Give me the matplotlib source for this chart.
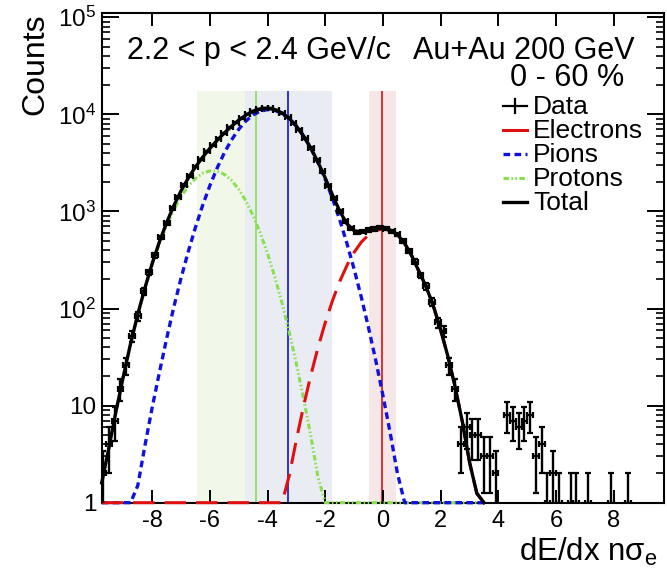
import numpy as np
import matplotlib
matplotlib.use("Agg")
import matplotlib.pyplot as plt
from matplotlib.ticker import FixedLocator, LogLocator, NullFormatter, NullLocator

plt.rcParams['font.family'] = ['Liberation Sans', 'DejaVu Sans']
plt.rcParams['mathtext.fontset'] = 'custom'
plt.rcParams['mathtext.rm'] = 'Liberation Sans'
plt.rcParams['mathtext.it'] = 'Liberation Sans:italic'
plt.rcParams['mathtext.default'] = 'regular'
plt.rcParams['axes.unicode_minus'] = False

# data histogram, bins 0.2 wide, first visible bin centred at -9.7
bin_width = 0.2
first_centre = -9.7
counts = [2, 4, 7, 15, 26, 52, 84, 150, 236, 352,
          540, 760, 1080, 1410, 1870, 2320, 2900, 3450, 4150, 4800,
          5620, 6400, 7350, 8200, 9150, 10100, 10800, 11300, 11600, 11500,
          11100, 10300, 9400, 8150, 6950, 5650, 4500, 3420, 2580, 1850,
          1380, 1000, 790, 670, 610, 620, 645, 660, 680, 665,
          625, 580, 495, 390, 305, 220, 170, 118, 72, 58,
          26, 15, 4, 6, 5, 5, 3, 3, 2, 0,
          8, 7, 6, 7, 8, 3, 4, 1, 2, 1,
          0, 1, 1, 0, 1, 0, 0, 0, 1, 0,
          0, 1]

# fit curves (values at the bottom are drawn on the frame, i.e. 1)
curve_x = [-9.75, -9.5, -9.25, -9.0, -8.75, -8.5, -8.25, -8.0, -7.75, -7.5,
           -7.25, -7.0, -6.75, -6.5, -6.25, -6.0, -5.75, -5.5, -5.25, -5.0,
           -4.75, -4.5, -4.25, -4.0, -3.75, -3.5, -3.25, -3.0, -2.75, -2.5,
           -2.25, -2.0, -1.75, -1.5, -1.25, -1.0, -0.75, -0.5, -0.25, 0.0,
           0.25, 0.5, 0.75, 1.0, 1.25, 1.5, 1.75, 2.0, 2.25, 2.5,
           2.75, 3.0, 3.25, 3.5]
total = [1.6, 3.7, 8.9, 20, 43.5, 87.5, 164, 292, 487, 768,
         1149, 1631, 2210, 2877, 3630, 4470, 5400, 6430, 7550, 8720,
         9850, 10790, 11395, 11566, 11211, 10344, 9079, 7561, 5972, 4486,
         3202, 2202, 1476, 1007, 745, 633, 614, 638, 667, 672,
         643, 577, 469, 347, 240, 166, 105, 60, 32, 15.5,
         6.8, 2.6, 1.25, 1]
electrons = [1, 1, 1, 1, 1, 1, 1, 1, 1, 1,
             1, 1, 1, 1, 1, 1, 1, 1, 1, 1,
             1, 1, 1, 1, 1, 1, 1.9, 4.5, 10, 20.7,
             40, 72, 121, 190, 278, 380, 484, 575, 638, 660,
             638, 575, 468, 347, 240, 166, 105, 60, 32, 15.5,
             6.8, 2.6, 1.25, 1]
pions = [1, 1, 1, 1, 1, 1.5, 3.9, 9.6, 22, 49,
         104, 206, 386, 687, 1160, 1850, 2800, 4020, 5460, 7030,
         8570, 9890, 10800, 11200, 11000, 10230, 9020, 7530, 5950, 4460,
         3160, 2130, 1355, 817, 467, 253, 130, 63, 29, 12.6,
         5.2, 2.0, 1, 1, 1, 1, 1, 1, 1, 1,
         1, 1, 1, 1]
protons = [1.6, 3.7, 8.9, 20, 43, 86, 160, 282, 465, 719,
           1045, 1425, 1824, 2190, 2470, 2620, 2600, 2410, 2090, 1690,
           1280, 902, 595, 366, 211, 114, 57, 26.7, 11.7, 4.8,
           1.8, 1, 1, 1, 1, 1, 1, 1, 1, 1,
           1, 1, 1, 1, 1, 1, 1, 1, 1, 1,
           1, 1, 1, 1]

# expected positions (lines) and their bands
species_colors = ['#88e050', '#1010e0', '#e01010']
band_colors = ['#f1f8ea', '#e9ecf2', '#f5e7e7']
line_pos = [-4.41, -3.31, -0.05]
band_lo = [-6.44, -4.78, -0.50]
band_hi = [-2.38, -1.76, 0.46]
band_top = 1.75e4

fig = plt.figure(figsize=(6.67, 5.70), dpi=100)
ax = fig.add_axes([0.1525, 0.1181, 0.8435, 0.8586])

for lo, hi, c in zip(band_lo, band_hi, band_colors):
    ax.fill_between([lo, hi], 1, band_top, color=c, lw=0, zorder=0.5)
ax.vlines(line_pos, 1, band_top, colors=species_colors, lw=1.2, zorder=1)

ax.plot(curve_x, protons, color='#88e050', lw=2.2, dashes=(1.8, 0.8, 0.5, 0.8, 0.5, 0.8),
        clip_on=False, zorder=3)
ax.plot(curve_x, pions, color='#1010e0', lw=2.4, dashes=(2.0, 1.3), clip_on=False, zorder=3.1)
ax.plot(curve_x, electrons, color='#e01010', lw=2.2, dashes=(7, 3.3), clip_on=False, zorder=3.2)

centres = first_centre + bin_width * np.arange(len(counts))
n = np.array(counts, dtype=float)
keep = n > 0
err = np.sqrt(n[keep])
err_lo = np.minimum(err, n[keep] - 0.5)
ax.errorbar(centres[keep], n[keep], xerr=bin_width / 2, yerr=[err_lo, err],
            fmt='none', ecolor='black', elinewidth=1.7, capsize=2.2, capthick=1.6, zorder=4)
ax.plot(curve_x, total, color='black', lw=2.4, clip_on=False, zorder=5)

ax.set_xlim(-9.75, 9.75)
ax.set_yscale('log')
ax.set_ylim(1, 1.1e5)

ax.xaxis.set_major_locator(FixedLocator([-8, -6, -4, -2, 0, 2, 4, 6, 8]))
ax.xaxis.set_minor_locator(NullLocator())
ax.yaxis.set_major_locator(FixedLocator([1, 10, 100, 1e3, 1e4, 1e5]))
ax.set_yticklabels(['1', '10', r'$10^{2}$', r'$10^{3}$', r'$10^{4}$', r'$10^{5}$'])
ax.yaxis.set_minor_locator(LogLocator(base=10, subs=np.arange(2, 10)))
ax.yaxis.set_minor_formatter(NullFormatter())

ax.tick_params(axis='both', which='both', direction='in', top=True, right=True)
ax.tick_params(axis='x', which='major', length=9.5, width=1.4, labelsize=17, pad=5)
ax.tick_params(axis='y', which='major', length=12, width=1.4, labelsize=17.5, pad=4)
ax.tick_params(axis='y', which='minor', length=6, width=1.2)
for s in ax.spines.values():
    s.set_linewidth(1.5)

ax.set_xlabel(r'dE/dx n$\sigma_{e}$', fontsize=22.5, loc='right')
ax.xaxis.label.set_va('baseline')
ax.xaxis.set_label_coords(0.989, -0.119)
ax.set_ylabel('Counts', fontsize=23, loc='top')
ax.yaxis.set_label_coords(-0.092, 1.0)

ax.text(0.045, 0.907, '2.2 < p < 2.4 GeV/c', transform=ax.transAxes, fontsize=22,
        ha='left', va='baseline')
ax.text(0.948, 0.907, 'Au+Au 200 GeV', transform=ax.transAxes, fontsize=22,
        ha='right', va='baseline')
ax.text(0.828, 0.8515, '0 - 60 %', transform=ax.transAxes, fontsize=22,
        ha='center', va='baseline')

# legend, drawn by hand to get the tight ROOT row spacing
leg_labels = ['Data', 'Electrons', 'Pions', 'Protons', 'Total']
leg_base = [0.7936, 0.7446, 0.6956, 0.6466, 0.5976]
hx0, hx1, tx = 0.7128, 0.7555, 0.7672
for lab, yb in zip(leg_labels, leg_base):
    ax.text(tx, yb, lab, transform=ax.transAxes, fontsize=19, ha='left', va='baseline')
hy = [yb + 0.0175 for yb in leg_base]
kw = dict(transform=ax.transAxes, clip_on=False)
ax.plot([hx0, hx1], [hy[0], hy[0]], color='black', lw=1.6, **kw)
ax.plot([(hx0 + hx1) / 2] * 2, [hy[0] - 0.0143, hy[0] + 0.0143], color='black', lw=1.6, **kw)
ax.plot([hx0, hx1], [hy[1], hy[1]], color='#e01010', lw=2.2, **kw)
ax.plot([hx0, hx1], [hy[2], hy[2]], color='#1010e0', lw=2.4, dashes=(2.0, 1.3), **kw)
ax.plot([hx0, hx1], [hy[3], hy[3]], color='#88e050', lw=2.2,
        dashes=(1.8, 0.8, 0.5, 0.8, 0.5, 0.8), **kw)
ax.plot([hx0, hx1], [hy[4], hy[4]], color='black', lw=2.4, **kw)

fig.savefig('out.png', dpi=100)
